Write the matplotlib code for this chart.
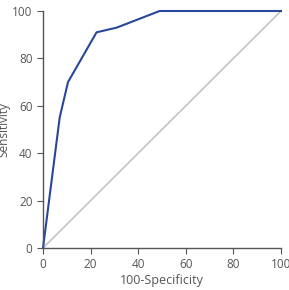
import matplotlib.pyplot as plt

# ── data ───────────────────────────────────────────────────────────────────────
fpr = [0, 7, 10.5, 22.5, 31, 49, 100]     # 100-Specificity
tpr = [0, 55, 70, 91, 93, 100, 100]       # Sensitivity
ref_line = [0, 100]
ticks = [0, 20, 40, 60, 80, 100]

plt.rcParams["font.family"] = ["Open Sans", "DejaVu Sans"]

fig = plt.figure(figsize=(2.89, 2.90), dpi=100)
ax = fig.add_axes([43 / 289, 1 - 248 / 290, 238 / 289, 237 / 290])

ax.plot(ref_line, ref_line, color="#c4c4c4", linewidth=1.2, zorder=1)
ax.plot(fpr, tpr, color="#27489a", linewidth=1.5, zorder=2, clip_on=False)

ax.set_xlim(0, 100)
ax.set_ylim(0, 100)
ax.set_xticks(ticks)
ax.set_yticks(ticks)

for side in ["top", "right"]:
    ax.spines[side].set_visible(False)
for side in ["left", "bottom"]:
    ax.spines[side].set_color("#555555")
    ax.spines[side].set_linewidth(1.0)

ax.tick_params(axis="both", colors="#555555", labelsize=8.5, length=4, width=0.8,
               labelcolor="#555555")
ax.set_xlabel("100-Specificity", fontsize=9, color="#555555", labelpad=2)
ax.set_ylabel("Sensitivity", fontsize=8.5, color="#555555", labelpad=1)

fig.savefig("out.png", dpi=100)
